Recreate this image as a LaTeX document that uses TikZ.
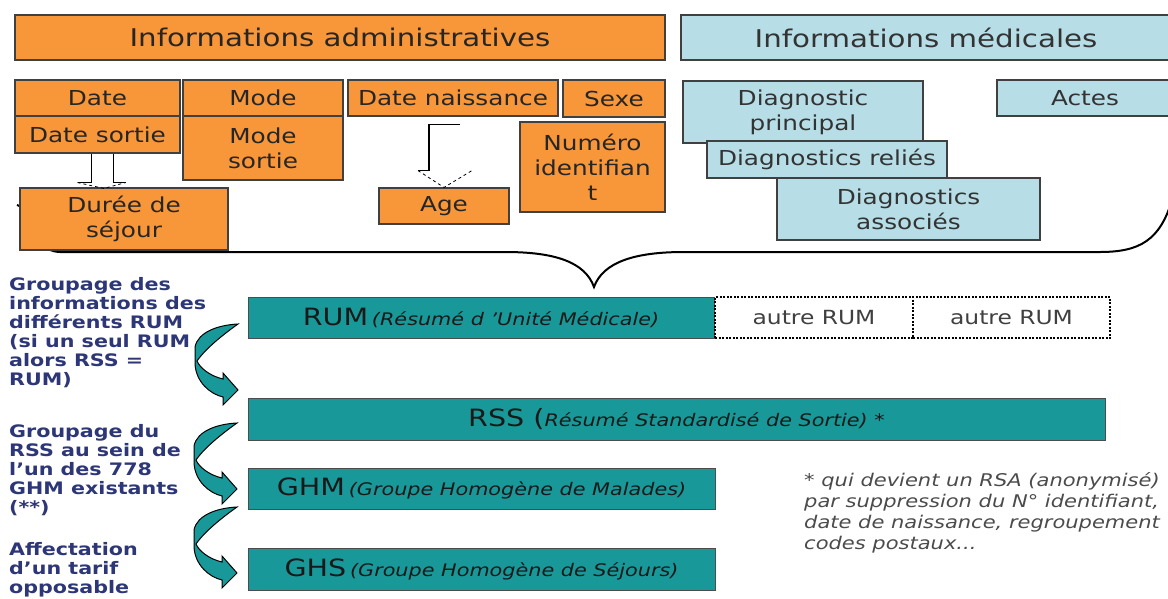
\documentclass[tikz,border=0pt]{standalone}
\usepackage{fontspec}
\setmainfont{DejaVu Sans}[FakeStretch=1.2]
\usetikzlibrary{calc}
\definecolor{orangeF}{RGB}{248,150,58}
\definecolor{blueF}{RGB}{183,221,230}
\definecolor{tealF}{RGB}{24,152,152}
\definecolor{navyT}{RGB}{45,55,120}
\definecolor{footT}{RGB}{75,75,75}
\tikzset{
  adm/.style={draw=black!75, line width=1.1pt, fill=orangeF, inner sep=0pt, align=center,
    text=black!85, font=\fontsize{20.6}{25}\selectfont},
  medb/.style={adm, fill=blueF, text=black!80},
  headtxt/.style={font=\fontsize{24.4}{28}\selectfont},
  tealb/.style={draw=black!70, line width=1pt, fill=tealF, inner sep=0pt, text=black!90},
  dotb/.style={draw=black, line width=2pt, dash pattern=on 2pt off 1.5pt, inner sep=0pt,
    text=black!75, font=\fontsize{19.5}{22}\selectfont},
  thinl/.style={draw=black, line width=1.2pt},
  lefttxt/.style={anchor=north west, inner sep=0pt, align=left, text=navyT,
    font=\bfseries\fontsize{17.2}{19}\selectfont},
  foottxt/.style={anchor=north west, inner sep=0pt, align=left, text=footT,
    font=\itshape\fontsize{17.5}{21}\selectfont},
  pics/curvarr/.style={code={
    \draw[fill=tealF, draw=black, line width=1pt]
      (0,0) .. controls (-20,1) and (-40,8) .. (-43,23) -- (-43,40)
      .. controls (-42,58) and (-28,70) .. (-15,73) -- (-15,81) -- (0,66) -- (-15,49) -- (-15,55)
      .. controls (-28,52) and (-38,44) .. (-41,37)
      .. controls (-32,24) and (-14,10) .. (0,0) -- cycle;
  }}
}
\newcommand{\bigT}[1]{{\fontsize{23.8}{26}\selectfont #1}}
\newcommand{\smallI}[1]{{\itshape\fontsize{17.3}{20}\selectfont #1}}
\begin{document}
\begin{tikzpicture}[x=1pt,y=-1pt]
\useasboundingbox (0,0) rectangle (1168,598);
\clip (0,0) rectangle (1168,598);
\fill[white] (0,0) rectangle (1168,598);

% brace
\draw[line width=2pt, black] (17,205) .. controls (32,208) and (28,251) .. (60,252) -- (505,252)
  .. controls (555,252) and (585,262) .. (594,287)
  .. controls (603,262) and (635,252) .. (684,252) -- (1100,252)
  .. controls (1140,252) and (1160,240) .. (1172,200);

% headers
\node[adm,headtxt,minimum width=650pt,minimum height=45pt] (adm) at (340,37.5) {Informations administratives};
\node[medb,headtxt,minimum width=490pt,minimum height=45pt] (med) at (926,37.5) {Informations médicales};

% administrative boxes
\node[adm,minimum width=165pt,minimum height=36pt] (date) at (97.5,98) {Date};
\node[adm,minimum width=165pt,minimum height=37pt] (datesortie) at (97.5,134.5) {Date sortie};
\node[adm,minimum width=160pt,minimum height=36pt] (mode) at (263,98) {Mode};
\node[adm,minimum width=160pt,minimum height=64pt] (modesortie) at (263,148) {Mode\\sortie};
\node[adm,minimum width=210pt,minimum height=36pt] (naiss) at (453,98) {Date naissance};
\node[adm,minimum width=102pt,minimum height=37pt] (sexe) at (614,98.5) {Sexe};
\node[adm,minimum width=145pt,minimum height=90pt] (num) at (592.5,167) {Numéro\\identifian\\t};
\node[adm,minimum width=130pt,minimum height=36pt] (age) at (444,206) {Age};
\node[adm,minimum width=208pt,minimum height=62pt] (duree) at (124,219) {Durée de\\séjour};

% medical boxes
\node[medb,minimum width=240pt,minimum height=62pt] (dp) at (803,112) {Diagnostic\\principal};
\node[medb,minimum width=176pt,minimum height=36pt] (actes) at (1085,98) {Actes};
\node[medb,minimum width=240pt,minimum height=37pt] (dr) at (827,159.5) {Diagnostics reliés};
\node[medb,minimum width=263pt,minimum height=62pt] (da) at (908.5,209) {Diagnostics\\associés};

% hollow arrows
\draw[thinl] ($(datesortie.south)+(-6,0)$) |- ($(datesortie.south)+(-20,29)$);
\draw[thinl] ($(datesortie.south)+(16,0)$) |- ($(datesortie.south)+(28,29)$);
\draw[thinl,dashed,line width=0.8pt] ($(datesortie.south)+(-20,29)$) -- ($(duree.north)+(-20,1)$) -- ($(datesortie.south)+(28,29)$);

\draw[thinl] ($(naiss.south)+(7,8)$) -- ($(naiss.south)+(-24,8)$) -- ($(naiss.south)+(-24,54)$) -- ($(naiss.south)+(-35,54)$);
\draw[thinl,dashed,line width=0.8pt] ($(naiss.south)+(-35,54)$) -- (age.north) -- ($(naiss.south)+(19,54)$);

% teal chain
\node[tealb,minimum width=466pt,minimum height=41pt] (rum) at (481,317.5) {\bigT{RUM} \smallI{(Résumé d 'Unité Médicale)}};
\node[dotb,minimum width=198pt,minimum height=41pt] (autre1) at (814,317.5) {autre RUM};
\node[dotb,minimum width=197pt,minimum height=41pt] (autre2) at (1011.5,317.5) {autre RUM};
\node[tealb,minimum width=857pt,minimum height=42pt] (rss) at (676.5,419) {\bigT{RSS (}\smallI{Résumé Standardisé de Sortie) *}};
\node[tealb,minimum width=467pt,minimum height=41pt] (ghm) at (481.5,488.5) {\bigT{GHM} \smallI{(Groupe Homogène de Malades)}};
\node[tealb,minimum width=467pt,minimum height=42pt] (ghs) at (481.5,569) {\bigT{GHS} \smallI{(Groupe Homogène de Séjours)}};

% curved arrows
\pic at (238,324) {curvarr};
\pic at (237,423) {curvarr};
\pic at (237,507) {curvarr};

% left texts
\node[lefttxt] (t1) at (9,277) {Groupage des\\informations des\\différents RUM\\(si un seul RUM\\alors RSS =\\RUM)};
\node[lefttxt] (t2) at (9,424) {Groupage du\\RSS au sein de\\l'un des 778\\GHM existants\\(**)};
\node[lefttxt] (t3) at (9,542) {Affectation\\d'un tarif\\opposable};

% footnote
\node[foottxt] (fn) at (804,472) {* qui devient un RSA (anonymisé)\\par suppression du N° identifiant,\\date de naissance, regroupement\\codes postaux...};
\end{tikzpicture}
\end{document}
